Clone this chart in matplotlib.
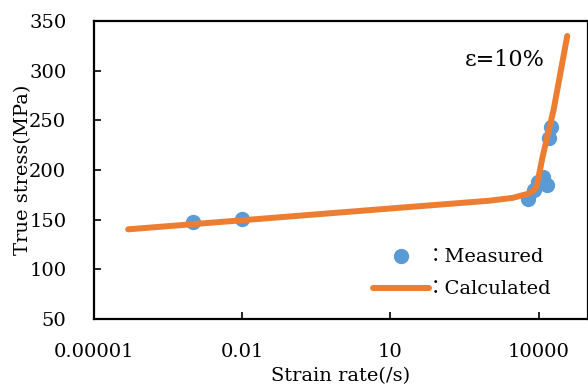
import matplotlib.pyplot as plt

plt.rcParams['font.family'] = ['DejaVu Serif', 'Noto Sans CJK JP']

# Measured points (strain rate /s, true stress MPa)
meas_rate = [1e-3, 1e-2, 6000, 8000, 9500, 12000, 14500, 16000, 17500]
meas_stress = [147.3, 150.6, 171, 180, 188, 193, 185, 232, 243]

# Calculated curve
calc_rate = [4.9e-5, 1e-3, 1e-1, 10, 1e3, 3e3, 6e3, 7.8e3, 9.2e3, 1.2e4, 2e4, 3.8e4]
calc_stress = [140.3, 145.5, 153.4, 161.3, 169.1, 172.0, 176.0, 179.0, 184.0, 213, 260, 335]

xticks = [1e-5, 1e-2, 10, 1e4]
xtick_labels = ['0.00001', '0.01', '10', '10000']
yticks = [50, 100, 150, 200, 250, 300, 350]

blue = '#5B9BD5'
orange = '#ED7D31'

fig = plt.figure(figsize=(5.88, 3.9), dpi=100)
ax = fig.add_axes([0.16, 0.182, 0.84, 0.764])

ax.plot(meas_rate, meas_stress, 'o', color=blue, ms=10, label='：Measured', zorder=2)
ax.plot(calc_rate, calc_stress, '-', color=orange, lw=4.3, solid_capstyle='round',
        label='：Calculated', zorder=3)

ax.set_xscale('log')
ax.set_xlim(1e-5, 1e5)
ax.set_ylim(50, 350)
ax.set_xticks(xticks)
ax.set_xticklabels(xtick_labels)
ax.minorticks_off()
ax.set_yticks(yticks)
ax.tick_params(direction='in', length=5, width=1.2, labelsize=14)
ax.tick_params(axis='x', pad=17)
ax.tick_params(axis='y', pad=20)

for s in ax.spines.values():
    s.set_linewidth(1.6)

ax.set_xlabel('Strain rate(/s)', fontsize=14, labelpad=5)
ax.set_ylabel('True stress(MPa)', fontsize=14, labelpad=-2)

ax.text(0.832, 0.869, 'ε=10%', transform=ax.transAxes, fontsize=16, ha='center', va='center')

ax.legend(loc='upper left', bbox_to_anchor=(0.565, 0.237), frameon=False, fontsize=14,
          handlelength=2.85, handletextpad=-0.15, labelspacing=0.72, numpoints=1,
          borderaxespad=0, borderpad=0)

fig.savefig('out.png', dpi=100)
